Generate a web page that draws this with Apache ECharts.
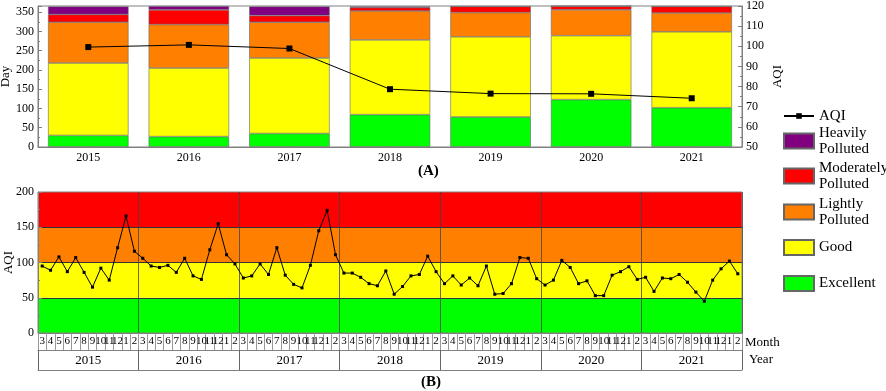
<!DOCTYPE html>
<html><head><meta charset="utf-8">
<script src="https://cdn.jsdelivr.net/npm/echarts@6/dist/echarts.min.js"></script>
<style>html,body{margin:0;padding:0;background:#fff}#c{width:886px;height:391px}</style>
</head><body><div id="c"></div>
<script>
// ---- data ----
const years = ['2015','2016','2017','2018','2019','2020','2021'];
const excellentDays  = [30, 27, 35, 84, 78, 123, 102];
const goodDays       = [188, 178, 196, 194, 208, 166, 197];
const lightlyDays    = [106, 113, 93, 75, 63, 67, 49];
const moderatelyDays = [20, 38, 17, 9, 16, 10, 17];
const heavilyDays    = [21, 10, 24, 3, 0, 0, 0];
const annualAQI      = [99.6, 100.7, 98.9, 78.7, 76.5, 76.4, 74.2];
const monthLabels = ['3','4','5','6','7','8','9','10','11','12','1','2'];
const aqi2015 = [95, 89, 108, 87, 107, 86, 65, 92, 75, 121, 166, 116];
const aqi2016 = [106, 95, 93, 96, 86, 106, 81, 76, 118, 155, 111, 98];
const aqi2017 = [78, 81, 98, 83, 121, 82, 69, 64, 96, 145, 174, 111];
const aqi2018 = [85, 85, 79, 70, 67, 88, 55, 66, 81, 83, 109, 87];
const aqi2019 = [70, 81, 68, 78, 67, 95, 55, 56, 70, 107, 106, 77];
const aqi2020 = [68, 75, 103, 93, 70, 74, 53, 53, 82, 87, 94, 76];
const aqi2021 = [79, 59, 78, 77, 83, 72, 58, 45, 75, 91, 102, 84];
const bandLimits = [0, 50, 100, 150, 200];

// ---- derived ----
const monthCats = years.flatMap(() => monthLabels);
const monthlyAQI = [].concat(aqi2015, aqi2016, aqi2017, aqi2018, aqi2019, aqi2020, aqi2021);
const FONT = '"Liberation Serif", "Times New Roman", serif';
const C = {ex:'#00FF00', good:'#FFFF00', light:'#FF8000', mod:'#FF0000', heavy:'#800080'};
const bandColors = [C.ex, C.good, C.light, C.mod];
const txt = {fontFamily: FONT, color: '#000'};

function barSeries(name, data, color) {
  return {name, type:'bar', stack:'days', xAxisIndex:0, yAxisIndex:0, data,
    barCategoryGap:'20%', itemStyle:{color, borderColor:'#666', borderWidth:0.6}, z:2};
}
function legendAt(name, top, isBar) {
  return {data:[name], orient:'vertical', left:783, top, padding:0,
    itemWidth:30, itemHeight: isBar ? 15 : 7, icon: isBar ? 'rect' : undefined,
    formatter: n => n === 'AQI' ? n : n.replace(' ', '\n'),
    textStyle:{fontFamily:FONT, fontSize:15, lineHeight:16, color:'#000'}};
}

const chart = echarts.init(document.getElementById('c'));
chart.setOption({
  animation:false,
  title:[
    {text:'(A)', left:418, top:164, padding:0, textStyle:{fontFamily:FONT, fontSize:15, fontWeight:'bold', color:'#000'}},
    {text:'(B)', left:421, top:375, padding:0, textStyle:{fontFamily:FONT, fontSize:15, fontWeight:'bold', color:'#000'}}
  ],
  legend:[
    legendAt('AQI', 108, false),
    legendAt('Heavily Polluted', 125, true),
    legendAt('Moderately Polluted', 160, true),
    legendAt('Lightly Polluted', 196, true),
    legendAt('Good', 239, true),
    legendAt('Excellent', 275, true)
  ],
  grid:[
    {left:38, right:144, top:6, bottom:244, show:true, borderColor:'#808080', borderWidth:1, z:3, outerBoundsMode:'none', containLabel:false},
    {left:38, right:144, top:192, bottom:58, show:true, borderColor:'#808080', borderWidth:1, z:3, outerBoundsMode:'none', containLabel:false}
  ],
  xAxis:[
    {gridIndex:0, type:'category', data:years, position:'bottom',
      axisLine:{lineStyle:{color:'#808080'}},
      axisTick:{show:true, alignWithLabel:true, inside:true, length:3, lineStyle:{color:'#808080'}},
      axisLabel:{...txt, fontSize:12, margin:5}},
    {gridIndex:1, type:'category', data:monthCats, position:'bottom', z:4,
      axisLine:{lineStyle:{color:'#808080'}},
      axisTick:{show:true, interval:0, length:17, lineStyle:{color:'#999'}},
      axisLabel:{...txt, fontSize:11, margin:3, interval:0, hideOverlap:false},
      name:'Month', nameLocation:'end', nameGap:3, nameMoveOverlap:false,
      nameTextStyle:{fontFamily:FONT, fontSize:13, color:'#000', verticalAlign:'top', padding:[3,0,0,0]}},
    {gridIndex:1, type:'category', data:years, position:'bottom', offset:17, z:4,
      axisLine:{lineStyle:{color:'#808080'}},
      axisTick:{show:true, interval:0, length:20, lineStyle:{color:'#666'}},
      axisLabel:{...txt, fontSize:13, margin:4},
      splitLine:{show:true, interval:0, lineStyle:{color:'#444', width:0.8}},
      name:'Year', nameLocation:'end', nameGap:7, nameMoveOverlap:false,
      nameTextStyle:{fontFamily:FONT, fontSize:13, color:'#000', verticalAlign:'top', padding:[3,0,0,0]}},
    {gridIndex:1, type:'category', data:years, position:'bottom', offset:37,
      axisLine:{lineStyle:{color:'#808080'}}, axisTick:{show:false}, axisLabel:{show:false}}
  ],
  yAxis:[
    {gridIndex:0, type:'value', min:0, max:366, interval:50, position:'left',
      name:'Day', nameLocation:'middle', nameGap:26, nameRotate:90, nameMoveOverlap:false,
      nameTextStyle:{fontFamily:FONT, fontSize:13, color:'#000'},
      axisLine:{show:true, lineStyle:{color:'#808080'}},
      axisTick:{show:true, inside:true, length:4, lineStyle:{color:'#808080'}},
      minorTick:{show:true, splitNumber:2, length:2, lineStyle:{color:'#808080'}},
      splitLine:{show:false},
      axisLabel:{...txt, fontSize:12, margin:4, formatter: v => (v % 50 === 0 ? String(v) : '')}},
    {gridIndex:0, type:'value', min:50, max:120, interval:10, position:'right',
      name:'AQI', nameLocation:'middle', nameGap:29, nameRotate:90, nameMoveOverlap:false,
      nameTextStyle:{fontFamily:FONT, fontSize:13, color:'#000'},
      axisLine:{show:true, lineStyle:{color:'#808080'}},
      axisTick:{show:true, inside:true, length:4, lineStyle:{color:'#808080'}},
      minorTick:{show:true, splitNumber:2, length:2, lineStyle:{color:'#808080'}},
      splitLine:{show:false},
      axisLabel:{...txt, fontSize:12, margin:4}},
    {gridIndex:1, type:'value', min:0, max:200, interval:50, position:'left', z:4,
      name:'AQI', nameLocation:'middle', nameGap:23, nameRotate:90, nameMoveOverlap:false,
      nameTextStyle:{fontFamily:FONT, fontSize:13, color:'#000'},
      axisLine:{show:true, lineStyle:{color:'#808080'}},
      axisTick:{show:true, inside:true, length:4, lineStyle:{color:'#808080'}},
      minorTick:{show:true, splitNumber:2, length:2, lineStyle:{color:'#808080'}},
      splitLine:{show:true, showMinLine:false, showMaxLine:false, lineStyle:{color:'#333', width:1}},
      axisLabel:{...txt, fontSize:12, margin:4}}
  ],
  series:[
    barSeries('Excellent', excellentDays, C.ex),
    barSeries('Good', goodDays, C.good),
    barSeries('Lightly Polluted', lightlyDays, C.light),
    barSeries('Moderately Polluted', moderatelyDays, C.mod),
    barSeries('Heavily Polluted', heavilyDays, C.heavy),
    {name:'AQI', type:'line', xAxisIndex:0, yAxisIndex:1, data:annualAQI, z:6,
      symbol:'rect', symbolSize:6, itemStyle:{color:'#000'}, lineStyle:{color:'#000', width:1}},
    {name:'bands', type:'line', xAxisIndex:1, yAxisIndex:2, data:[], z:1, silent:true,
      markArea:{silent:true, data: bandColors.map((col, i) => [
        {yAxis: bandLimits[i], itemStyle:{color: col, opacity:1}}, {yAxis: bandLimits[i+1]}])}},
    {name:'Monthly AQI', type:'line', xAxisIndex:1, yAxisIndex:2, data:monthlyAQI, z:6,
      symbol:'rect', symbolSize:3, itemStyle:{color:'#000'}, lineStyle:{color:'#000', width:1}}
  ]
});
</script></body></html>
